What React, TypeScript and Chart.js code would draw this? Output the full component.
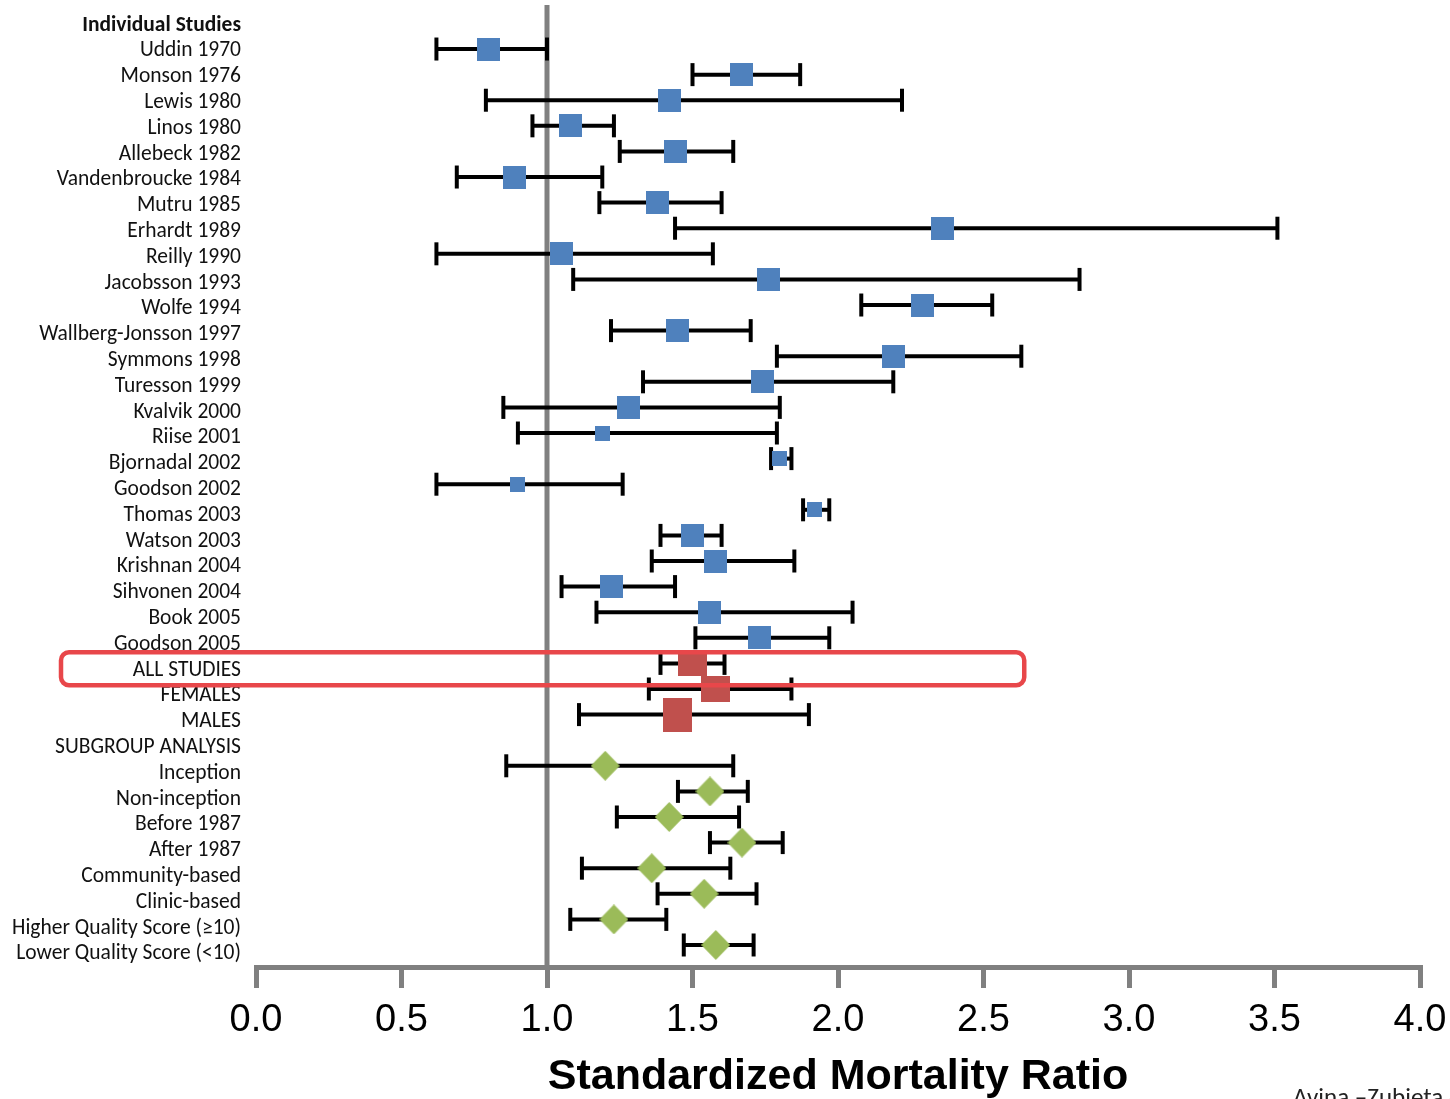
import React, { useEffect, useRef } from 'react';
import { Chart, registerables } from 'chart.js';

Chart.register(...registerables);

// ---------- data ----------
const headerLabel = 'Individual Studies';
const subgroupHeader = 'SUBGROUP ANALYSIS';

const studyLabels = [
  'Uddin 1970', 'Monson 1976', 'Lewis 1980', 'Linos 1980', 'Allebeck 1982',
  'Vandenbroucke 1984', 'Mutru 1985', 'Erhardt 1989', 'Reilly 1990', 'Jacobsson 1993',
  'Wolfe 1994', 'Wallberg-Jonsson 1997', 'Symmons 1998', 'Turesson 1999', 'Kvalvik 2000',
  'Riise 2001', 'Bjornadal 2002', 'Goodson 2002', 'Thomas 2003', 'Watson 2003',
  'Krishnan 2004', 'Sihvonen 2004', 'Book 2005', 'Goodson 2005',
];
const studySMR = [
  0.80, 1.67, 1.42, 1.08, 1.44, 0.89, 1.38, 2.36, 1.05, 1.76,
  2.29, 1.45, 2.19, 1.74, 1.28, 1.19, 1.80, 0.90, 1.92, 1.50,
  1.58, 1.22, 1.56, 1.73,
];
const studyLower = [
  0.62, 1.50, 0.79, 0.95, 1.25, 0.69, 1.18, 1.44, 0.62, 1.09,
  2.08, 1.22, 1.79, 1.33, 0.85, 0.90, 1.77, 0.62, 1.88, 1.39,
  1.36, 1.05, 1.17, 1.51,
];
const studyUpper = [
  1.00, 1.87, 2.22, 1.23, 1.64, 1.19, 1.60, 3.51, 1.57, 2.83,
  2.53, 1.70, 2.63, 2.19, 1.80, 1.79, 1.84, 1.26, 1.97, 1.60,
  1.85, 1.44, 2.05, 1.97,
];
// studies drawn with the small (low weight) marker
const studyLowWeight = [
  false, false, false, false, false, false, false, false, false, false,
  false, false, false, false, false, true, true, true, true, false,
  false, false, false, false,
];

const pooledLabels = ['ALL STUDIES', 'FEMALES', 'MALES'];
const pooledSMR = [1.50, 1.58, 1.45];
const pooledLower = [1.39, 1.35, 1.11];
const pooledUpper = [1.61, 1.84, 1.90];

const subgroupLabels = [
  'Inception', 'Non-inception', 'Before 1987', 'After 1987',
  'Community-based', 'Clinic-based', 'Higher Quality Score (\u226510)', 'Lower Quality Score (<10)',
];
const subgroupSMR = [1.20, 1.56, 1.42, 1.67, 1.36, 1.54, 1.23, 1.58];
const subgroupLower = [0.86, 1.45, 1.24, 1.56, 1.12, 1.38, 1.08, 1.47];
const subgroupUpper = [1.64, 1.69, 1.66, 1.81, 1.63, 1.72, 1.41, 1.71];

const xTicks = [0, 0.5, 1, 1.5, 2, 2.5, 3, 3.5, 4];
const referenceSMR = 1;
const axisTitle = 'Standardized Mortality Ratio';
const sourceNote = 'Avina \u2013Zubieta et al.';

// ---------- helpers ----------
function rectImage(w: number, h: number, color: string) {
  const c = document.createElement('canvas');
  c.width = w;
  c.height = h;
  const g = c.getContext('2d')!;
  g.fillStyle = color;
  g.fillRect(0, 0, w, h);
  return c;
}
function diamondImage(w: number, h: number, color: string) {
  const c = document.createElement('canvas');
  c.width = w;
  c.height = h;
  const g = c.getContext('2d')!;
  g.fillStyle = color;
  g.beginPath();
  g.moveTo(w / 2, 0);
  g.lineTo(w, h / 2);
  g.lineTo(w / 2, h);
  g.lineTo(0, h / 2);
  g.closePath();
  g.fill();
  return c;
}

const BLUE = '#4F81BD';
const RED = '#C0504D';
const GREEN = '#9BBB59';
const SANS = "'Liberation Sans', Arial, sans-serif";

export default function App() {
  const ref = useRef<HTMLCanvasElement | null>(null);

  useEffect(() => {
    const canvas = ref.current;
    if (!canvas) return;

    const rowLabels = [headerLabel, ...studyLabels, ...pooledLabels, subgroupHeader, ...subgroupLabels];
    const studyRow = (i: number) => 1 + i;
    const pooledRow = (i: number) => 1 + studyLabels.length + i;
    const subgroupRow = (i: number) => 2 + studyLabels.length + pooledLabels.length + i;

    const bigBlue = rectImage(23, 23, BLUE);
    const smallBlue = rectImage(15, 15, BLUE);
    const pooledSizes = [[29, 26], [29, 26], [29, 34]];
    const diamond = diamondImage(29, 30, GREEN);

    const points: { x: number; y: number }[] = [];
    const styles: HTMLCanvasElement[] = [];
    const bars: { lo: number; hi: number; y: number }[] = [];

    studySMR.forEach((v, i) => {
      points.push({ x: v, y: studyRow(i) });
      styles.push(studyLowWeight[i] ? smallBlue : bigBlue);
      bars.push({ lo: studyLower[i], hi: studyUpper[i], y: studyRow(i) });
    });
    pooledSMR.forEach((v, i) => {
      points.push({ x: v, y: pooledRow(i) });
      styles.push(rectImage(pooledSizes[i][0], pooledSizes[i][1], RED));
      bars.push({ lo: pooledLower[i], hi: pooledUpper[i], y: pooledRow(i) });
    });
    subgroupSMR.forEach((v, i) => {
      points.push({ x: v, y: subgroupRow(i) });
      styles.push(diamond);
      bars.push({ lo: subgroupLower[i], hi: subgroupUpper[i], y: subgroupRow(i) });
    });

    const datasets: any[] = [
      {
        type: 'scatter',
        yAxisID: 'y2',
        data: points,
        pointStyle: styles,
        pointRadius: 10,
        pointBorderWidth: 0,
        order: 0,
      },
      ...bars.map((b) => ({
        type: 'line',
        yAxisID: 'y2',
        data: [{ x: b.lo, y: b.y }, { x: b.hi, y: b.y }],
        borderColor: '#000',
        borderWidth: 4,
        pointStyle: 'line',
        pointRotation: 90,
        pointRadius: 11.5,
        pointBorderWidth: 4,
        pointBorderColor: '#000',
        pointBackgroundColor: '#000',
        order: 1,
      })),
      {
        type: 'line',
        yAxisID: 'y',
        data: [{ x: referenceSMR, y: -5 }, { x: referenceSMR, y: 50 }],
        borderColor: '#808080',
        borderWidth: 5,
        pointRadius: 0,
        clip: 0,
        order: 2,
      },
    ];

    const allStudiesRow = pooledRow(0);

    const overlay = {
      id: 'overlay',
      afterDraw(chart: any) {
        const { ctx } = chart;
        const xs = chart.scales.x;
        const ys = chart.scales.y;
        const yc = ys.getPixelForValue(allStudiesRow) - 1.5;
        const x0 = 61;
        const x1 = xs.getPixelForValue(2.64);
        ctx.save();
        ctx.strokeStyle = '#E8474A';
        ctx.lineWidth = 4.5;
        ctx.beginPath();
        ctx.roundRect(x0, yc - 16.5, x1 - x0, 33, 8);
        ctx.stroke();
        ctx.fillStyle = '#222';
        ctx.font = '25px Carlito, Lato, "Noto Sans", sans-serif';
        ctx.textAlign = 'left';
        ctx.textBaseline = 'alphabetic';
        ctx.fillText(sourceNote, 1293, 1105);
        ctx.restore();
      },
    };

    const chart = new Chart(canvas, {
      type: 'scatter',
      data: { datasets },
      options: {
        responsive: false,
        animation: false,
        events: [],
        layout: { autoPadding: false, padding: { top: 5, right: 30, left: 0, bottom: 0 } },
        plugins: { legend: { display: false }, tooltip: { enabled: false } },
        scales: {
          x: {
            type: 'linear',
            min: 0,
            max: 4,
            afterBuildTicks: (s: any) => {
              s.ticks = xTicks.map((v) => ({ value: v }));
            },
            afterFit: (s: any) => {
              s.height = 132;
              s.paddingLeft = 0;
              s.paddingRight = 0;
            },
            ticks: {
              autoSkip: false,
              maxRotation: 0,
              callback: (v: any) => Number(v).toFixed(1),
              color: '#000',
              padding: 10,
              font: { family: SANS, size: 38 },
            },
            grid: {
              drawOnChartArea: false,
              drawTicks: true,
              tickLength: 21,
              color: '#808080',
              lineWidth: 5,
            },
            border: { display: true, color: '#808080', width: 5 },
            title: {
              display: true,
              text: axisTitle,
              color: '#000',
              padding: { top: 0, bottom: 0 },
              font: { family: SANS, size: 43, weight: 'bold', lineHeight: 1 },
            },
          },
          y: {
            type: 'linear',
            position: 'left',
            reverse: true,
            min: -0.78,
            max: 36.5,
            afterBuildTicks: (s: any) => {
              s.ticks = rowLabels.map((_, i) => ({ value: i }));
            },
            afterFit: (s: any) => {
              s.width = 256;
              s.paddingTop = 0;
              s.paddingBottom = 0;
            },
            ticks: {
              autoSkip: false,
              color: '#111',
              padding: 15,
              callback: (v: any) => rowLabels[Math.round(Number(v))],
              font: (c: any) => ({
                family: 'Carlito, Lato, "Noto Sans", sans-serif',
                size: 21.5,
                weight: c.index === 0 ? 'bold' : 'normal',
              }),
            },
            grid: { display: false, drawTicks: false },
            border: { display: false },
          },
          y2: {
            type: 'linear',
            display: false,
            reverse: true,
            min: -0.72,
            max: 36.86,
            afterFit: (s: any) => {
              s.paddingTop = 0;
              s.paddingBottom = 0;
            },
          },
        },
      },
      plugins: [overlay],
    } as any);

    return () => chart.destroy();
  }, []);

  return (
    <div style={{ position: 'absolute', left: 0, top: 0, width: 1450, height: 1099, background: '#fff' }}>
      <canvas ref={ref} width={1450} height={1099} style={{ display: 'block' }} />
    </div>
  );
}
